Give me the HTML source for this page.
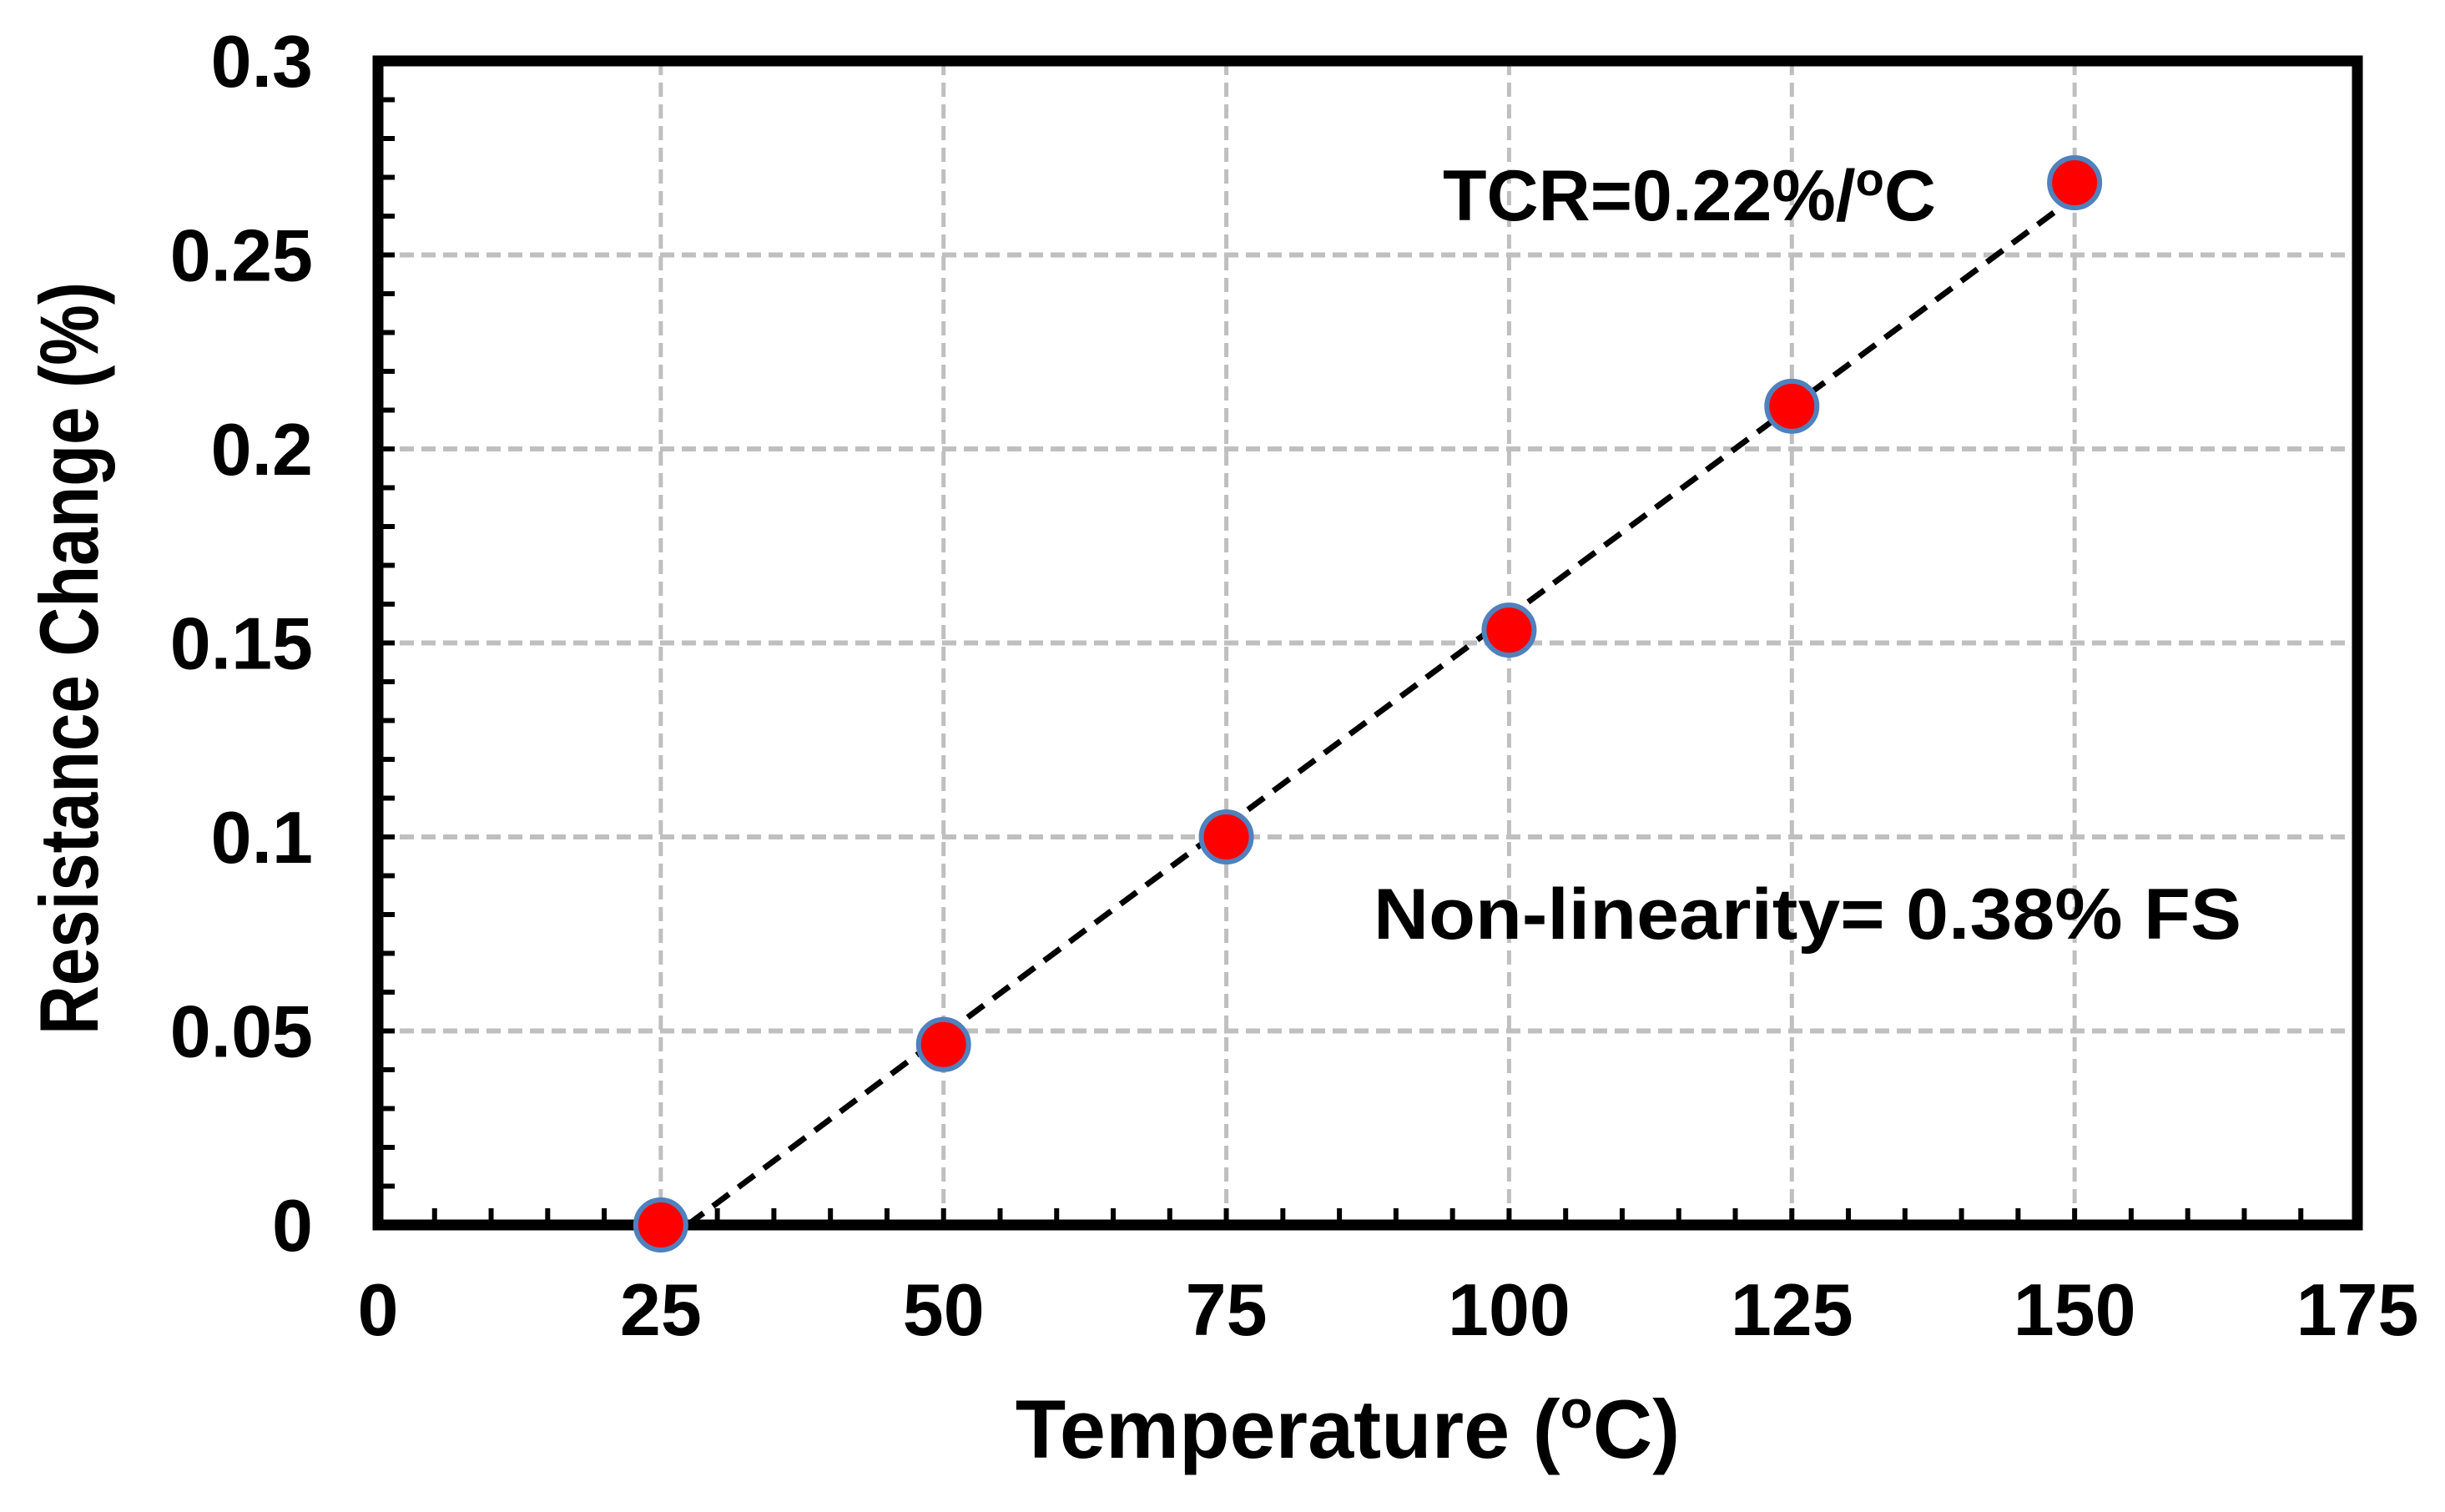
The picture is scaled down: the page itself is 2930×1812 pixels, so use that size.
<!DOCTYPE html>
<html><head><meta charset="utf-8"><style>
html,body{margin:0;padding:0;background:#fff;}
svg{display:block;}
text{font-family:"Liberation Sans",Arial,sans-serif;font-weight:bold;fill:#000;}
</style></head><body>
<svg id="chart" width="2930" height="1812" viewBox="0 0 2930 1812" xmlns="http://www.w3.org/2000/svg">
<g id="grid"></g>
<g id="ticks"></g>
<rect x="453" y="73" width="2372" height="1395" fill="none" stroke="#000" stroke-width="13"/>
<g id="labels"></g>
<path id="fit" fill="none" stroke="#000" stroke-width="7" stroke-dasharray="24,14"/>
<g id="points"></g>
<text x="1729" y="264" font-size="86" textLength="591" lengthAdjust="spacingAndGlyphs">TCR=0.22%/<tspan font-size="56" dy="-30">o</tspan><tspan dy="30">C</tspan></text>
<text x="1646" y="1125" font-size="86" textLength="1040" lengthAdjust="spacingAndGlyphs">Non-linearity= 0.38% FS</text>
<text x="1615" y="1747" font-size="99" text-anchor="middle">Temperature (<tspan font-size="64" dy="-36">o</tspan><tspan dy="36">C)</tspan></text>
<text transform="translate(117,789) rotate(-90)" font-size="99" text-anchor="middle" textLength="902" lengthAdjust="spacingAndGlyphs">Resistance Change (%)</text>
</svg>
<script>
const xTicks = [0, 25, 50, 75, 100, 125, 150, 175];
const yTicks = [0, 0.05, 0.1, 0.15, 0.2, 0.25, 0.3];
const yTickLabels = ["0", "0.05", "0.1", "0.15", "0.2", "0.25", "0.3"];
const temps = [25, 50, 75, 100, 125, 150];
const resChange = [0, 0.0465, 0.100, 0.1533, 0.211, 0.2686];

const X0 = 453, X1 = 2825, Y0 = 1468, Y1 = 73;
function sx(v){ return X0 + (v - 0) / 175 * (X1 - X0); }
function sy(v){ return Y0 - (v - 0) / 0.3 * (Y0 - Y1); }
const NS = "http://www.w3.org/2000/svg";
function mk(tag, attrs, parent){ const e = document.createElementNS(NS, tag); for (const k in attrs) e.setAttribute(k, attrs[k]); parent.appendChild(e); return e; }
const grid = document.getElementById('grid'), ticks = document.getElementById('ticks'), labels = document.getElementById('labels');

xTicks.forEach(t => {
  if (t > 0 && t < 175) {
    const l = mk('line', {x1: sx(t), x2: sx(t), y1: Y1, y2: Y0, stroke: '#bfbfbf', 'stroke-width': 5, 'stroke-dasharray': '17,9'}, grid);
    
    
  }
  const tx = mk('text', {x: sx(t), y: 1600, 'font-size': 88, 'text-anchor': 'middle'}, labels);
  tx.textContent = String(t);
  
  
});
yTicks.forEach((t, i) => {
  if (t > 0 && t < 0.3) {
    const l = mk('line', {x1: X0, x2: X1, y1: sy(t), y2: sy(t), stroke: '#bfbfbf', 'stroke-width': 6, 'stroke-dasharray': '17,9'}, grid);
    
    
  }
  const tx = mk('text', {x: 375, y: sy(t) + 31, 'font-size': 88, 'text-anchor': 'end'}, labels);
  tx.textContent = yTickLabels[i];
  
  
});
for (let v = 5; v < 175; v += 5) {
  const m = mk('line', {x1: sx(v), x2: sx(v), y1: Y0, y2: Y0 - 20, stroke: '#000', 'stroke-width': 6}, ticks);
  
  
}
for (let v = 1; v < 30; v++) {
  const m = mk('line', {x1: X0, x2: X0 + 20, y1: sy(v / 100), y2: sy(v / 100), stroke: '#000', 'stroke-width': 6}, ticks);
  
  
}
const n = temps.length;
const mx = temps.reduce((a, b) => a + b, 0) / n, my = resChange.reduce((a, b) => a + b, 0) / n;
let sxy = 0, sxx = 0;
for (let i = 0; i < n; i++) { sxy += (temps[i] - mx) * (resChange[i] - my); sxx += (temps[i] - mx) ** 2; }
const slope = sxy / sxx, icpt = my - slope * mx;
const xStart = Math.max(temps[0], -icpt / slope), xEnd = temps[n - 1];
document.getElementById('fit').setAttribute('d', `M${sx(xStart)},${sy(slope * xStart + icpt)} L${sx(xEnd)},${sy(slope * xEnd + icpt)}`);
const pts = document.getElementById('points');
temps.forEach((t, i) => {
  const c = mk('circle', {cx: sx(t), cy: sy(resChange[i]), r: 30, fill: '#ff0000', stroke: '#4f81bd', 'stroke-width': 6}, pts);
  
  
});
</script>
</body></html>
